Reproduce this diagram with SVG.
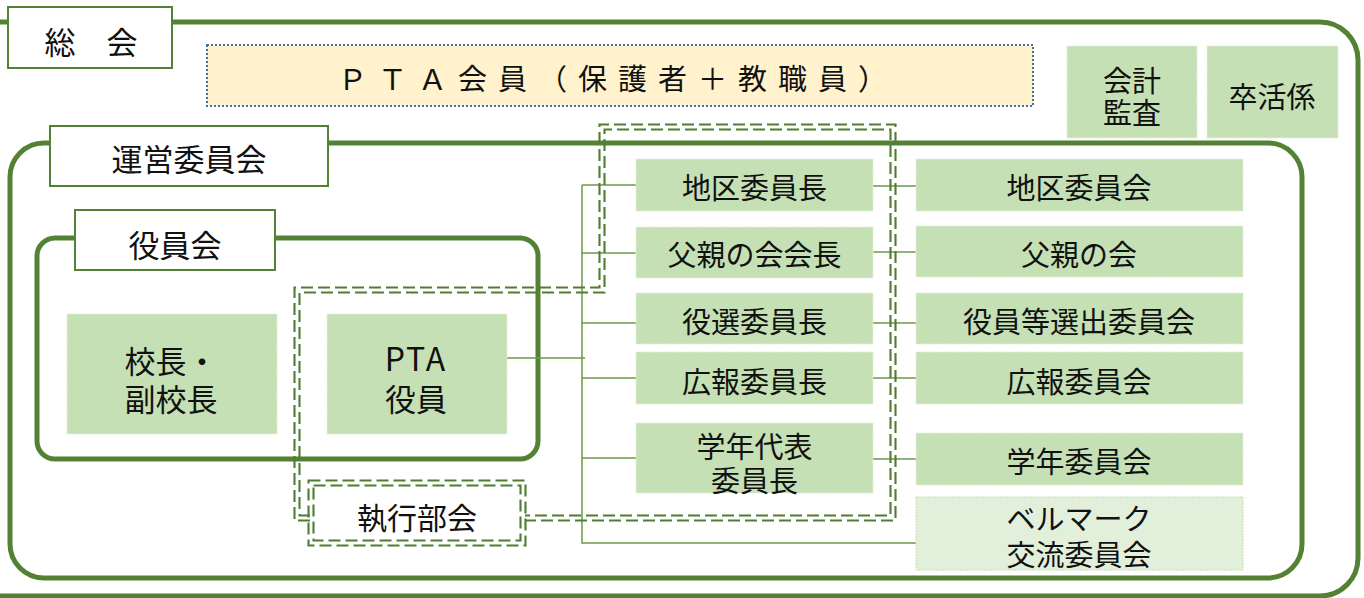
<svg xmlns="http://www.w3.org/2000/svg" width="1364" height="598" viewBox="0 0 1364 598">
<defs>
<style>
.frame{fill:none;stroke:#548235;stroke-width:5}
.label{fill:#ffffff;stroke:#548235;stroke-width:2}
.box{fill:#c5e0b4;stroke:#e2f0d9;stroke-width:1;stroke-dasharray:2 1}
.boxl{fill:#e2efda;stroke:#c5e0b4;stroke-width:1;stroke-dasharray:2 1}
.t{font-family:"Noto Sans CJK JP","Noto Sans",sans-serif;fill:#111111;text-anchor:middle;dominant-baseline:central}
.dd{fill:none;stroke:#4f7d31;stroke-width:2.1;stroke-dasharray:12 5}
.conn{fill:none;stroke:#6b9a4b;stroke-width:1.5}
</style>
</defs>
<rect width="1364" height="598" fill="#ffffff"/>

<!-- frames -->
<g id="frame-soukai">
<rect class="frame" x="-40" y="22" width="1398" height="574" rx="38" stroke-width="4.5"/>
</g>
<g id="frame-unei">
<rect class="frame" x="10" y="143" width="1292" height="435" rx="34"/>
</g>
<g id="frame-yakuin">
<rect class="frame" x="37" y="238" width="501" height="221" rx="18"/>
</g>

<!-- connectors -->
<g id="connectors">
<path class="conn" d="M503 358H585M582 185V543H916M582 185H636M582 253H636M582 323H636M582 378H636M582 458H636"/>
<path class="conn" d="M873 186H916M873 252H916M873 323H916M873 378H916M873 459H916"/>
</g>

<!-- executive double dashed outline -->
<g id="shikkou-outline">
<path class="dd" d="M310 520.5H294.5V287.5H599.5V124.5H895.5V520.5H525"/>
<path class="dd" d="M310 515.5H299.5V292.5H604.5V129.5H890.5V515.5H525"/>
</g>

<!-- labels -->
<g id="soukai">
<rect class="label" x="8" y="7" width="164" height="61"/>
<text class="t" x="91" y="40" font-size="31">総　会</text>
</g>
<g id="unei">
<rect class="label" x="50" y="126" width="278" height="60"/>
<text class="t" x="189" y="157" font-size="31">運営委員会</text>
</g>
<g id="yakuinkai">
<rect class="label" x="75" y="210" width="200" height="60"/>
<text class="t" x="175" y="243" font-size="31">役員会</text>
</g>

<g id="pta-members">
<rect x="207" y="45" width="826" height="61" fill="#fff2cc" stroke="#41719c" stroke-width="2" stroke-dasharray="2 2"/>
<text class="t" x="338" y="77" font-size="29" letter-spacing="11" style="text-anchor:start">ＰＴＡ会員（保護者＋教職員）</text>
</g>

<g id="kaikei">
<rect class="box" x="1067" y="46" width="130" height="92"/>
<text class="t" x="1132" y="79" font-size="29">会計</text>
<text class="t" x="1132" y="111" font-size="29">監査</text>
</g>
<g id="sotsukatsu">
<rect class="box" x="1207" y="46" width="131" height="92"/>
<text class="t" x="1272" y="95" font-size="29">卒活係</text>
</g>

<g id="kouchou">
<rect class="box" x="67" y="314" width="210" height="120"/>
<text class="t" x="171" y="359" font-size="31">校長・</text>
<text class="t" x="171" y="397" font-size="31">副校長</text>
</g>
<g id="pta-yakuin">
<rect class="box" x="327" y="314" width="180" height="120"/>
<text class="t" x="416" y="357" font-size="32" letter-spacing="2">PTA</text>
<text class="t" x="416" y="397" font-size="31">役員</text>
</g>

<g id="shikkou">
<rect class="dd" x="308.5" y="480.5" width="217" height="65"/>
<rect class="dd" x="313.5" y="485.5" width="207" height="55"/>
<text class="t" x="417" y="516" font-size="30">執行部会</text>
</g>

<g id="chiku-chou">
<rect class="box" x="636" y="159" width="237" height="52"/>
<text class="t" x="754.5" y="186" font-size="29">地区委員長</text>
</g>
<g id="fushin-chou">
<rect class="box" x="636" y="227" width="237" height="51"/>
<text class="t" x="754.5" y="253" font-size="29">父親の会会長</text>
</g>
<g id="yakusen-chou">
<rect class="box" x="636" y="293" width="237" height="51"/>
<text class="t" x="754.5" y="320" font-size="29">役選委員長</text>
</g>
<g id="kouhou-chou">
<rect class="box" x="636" y="352" width="237" height="52"/>
<text class="t" x="754.5" y="380" font-size="29">広報委員長</text>
</g>
<g id="gakunen-chou">
<rect class="box" x="636" y="423" width="237" height="70"/>
<text class="t" x="754.5" y="445" font-size="29">学年代表</text>
<text class="t" x="754.5" y="479" font-size="29">委員長</text>
</g>

<g id="chiku">
<rect class="box" x="916" y="159" width="327" height="52"/>
<text class="t" x="1079" y="186" font-size="29">地区委員会</text>
</g>
<g id="fushin">
<rect class="box" x="916" y="226" width="327" height="51"/>
<text class="t" x="1079" y="253" font-size="29">父親の会</text>
</g>
<g id="yakusen">
<rect class="box" x="916" y="293" width="327" height="51"/>
<text class="t" x="1079" y="320" font-size="29">役員等選出委員会</text>
</g>
<g id="kouhou">
<rect class="box" x="916" y="352" width="327" height="52"/>
<text class="t" x="1079" y="380" font-size="29">広報委員会</text>
</g>
<g id="gakunen">
<rect class="box" x="916" y="433" width="327" height="52"/>
<text class="t" x="1079" y="460" font-size="29">学年委員会</text>
</g>
<g id="bellmark">
<rect class="boxl" x="916" y="497" width="327" height="73"/>
<text class="t" x="1079" y="517" font-size="29">ベルマーク</text>
<text class="t" x="1079" y="553" font-size="29">交流委員会</text>
</g>
</svg>
